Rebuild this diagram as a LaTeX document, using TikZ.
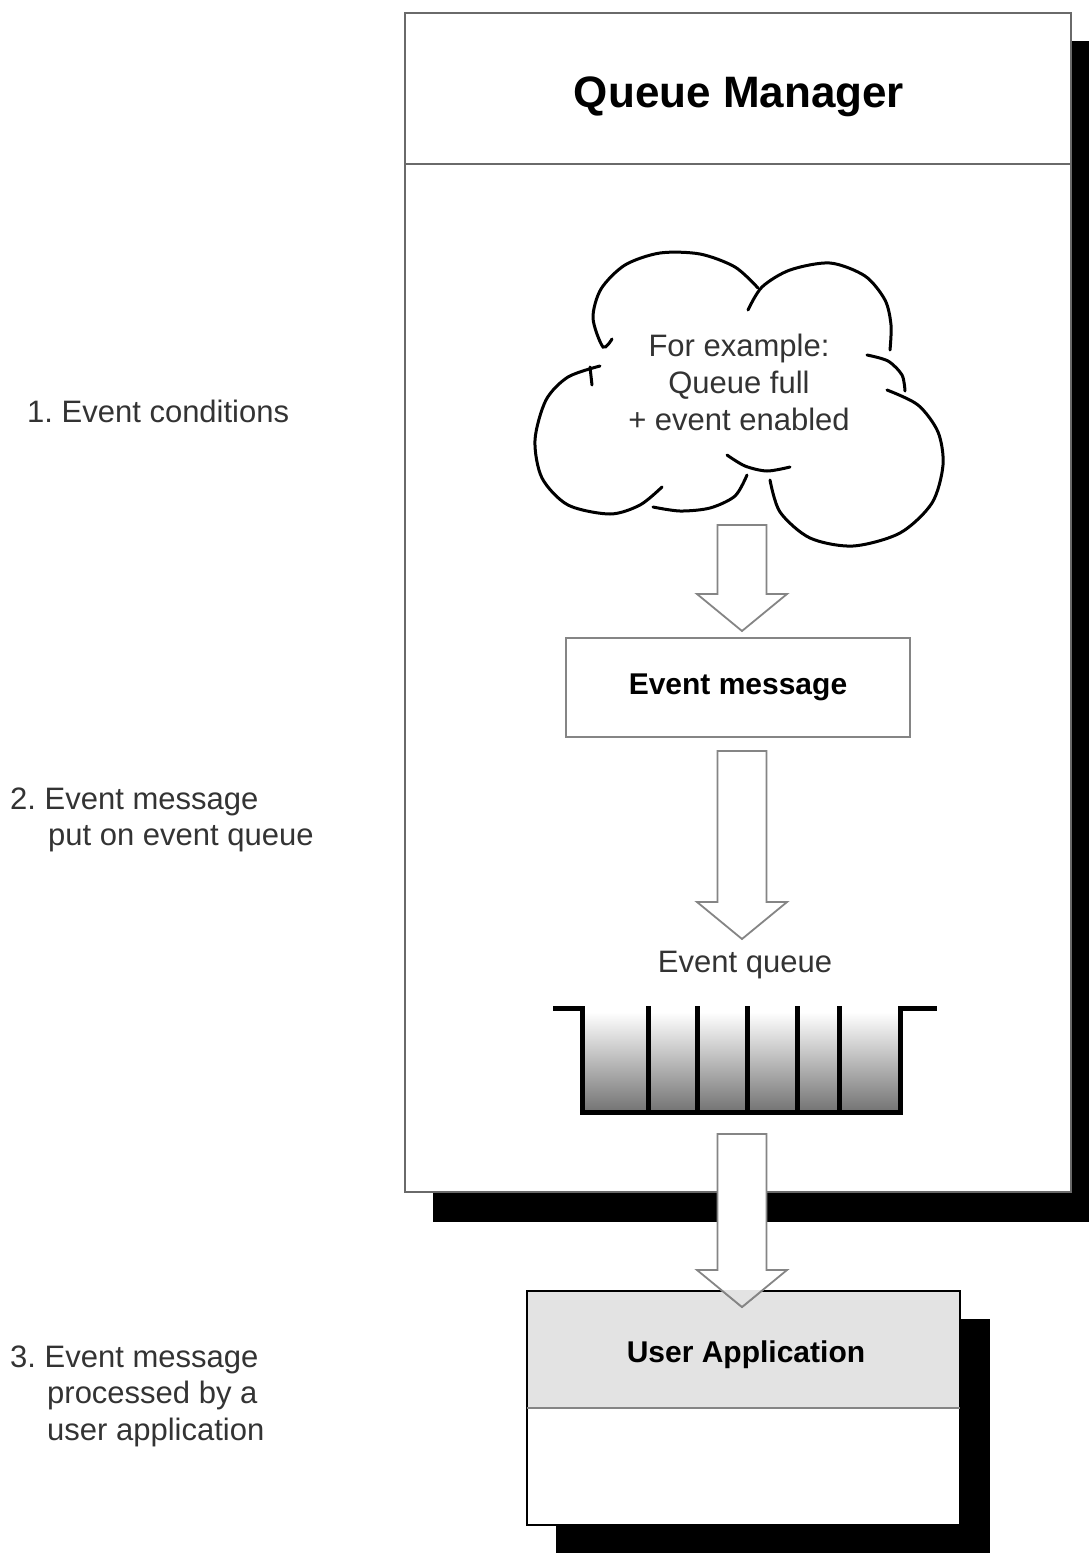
\documentclass[tikz,border=0pt]{standalone}
\usepackage{fontspec}
\setmainfont{Liberation Sans}
\usetikzlibrary{calc}
\frenchspacing

\definecolor{linegray}{HTML}{6A6A6A}
\definecolor{arrowgray}{HTML}{858585}
\definecolor{headgray}{HTML}{E3E3E3}
\definecolor{textgray}{HTML}{333333}

% seta larga vazada: (inicio) (ponta)
\newcommand{\hollowarrow}[3][]{%
  \path[arrowline,#1] ($(#2)+(-24.5,0)$) -- ($(#2)+(24.5,0)$) -- ($(#3)+(24.5,-37)$)
    -- ($(#3)+(45,-37)$) -- (#3) -- ($(#3)+(-45,-37)$) -- ($(#3)+(-24.5,-37)$) -- cycle;}

\begin{document}
\begin{tikzpicture}[x=1pt, y=-1pt,
    panel/.style={draw=linegray, line width=2pt, fill=white, inner sep=0pt, outer sep=0pt},
    arrowline/.style={draw=arrowgray, line width=1.8pt, fill=white, line join=miter},
    stagetext/.style={anchor=base west, text=textgray, font=\fontsize{31}{37}\selectfont, inner sep=0pt},
    plaintext/.style={text=textgray, font=\fontsize{31}{37}\selectfont, inner sep=0pt},
    boldtext/.style={font=\bfseries\fontsize{30}{36}\selectfont, inner sep=0pt},
    cloudline/.style={line width=3pt, line cap=round}]
        \useasboundingbox (0,0) rectangle (1089,1553);
        \clip (0,0) rectangle (1089,1553);

        % Gerenciador de filas com sombra
        \fill (433,41) rectangle (1099,1222);
        \node[panel, minimum width=666pt, minimum height=1179pt, anchor=north west] (qm) at (405,13) {};
        \draw[linegray, line width=2pt] ($(qm.north west)+(0,151)$) -- ($(qm.north east)+(0,151)$);
        \node[font=\bfseries\fontsize{44}{50}\selectfont, anchor=base, inner sep=0pt] (qmtitle) at (739,107) {Queue Manager};

        % Etapas a esquerda
        \node[stagetext] (st1) at (27,422) {1. Event conditions};
        \node[stagetext] (st2a) at (10,809) {2. Event message};
        \node[stagetext] (st2b) at (48,845) {put on event queue};
        \node[stagetext] (st3a) at (10,1367) {3. Event message};
        \node[stagetext] (st3b) at (47,1403) {processed by a};
        \node[stagetext] (st3c) at (47,1440) {user application};

        % Nuvem das condicoes
        \draw[cloudline] plot[smooth] coordinates {(612,339) (603,347) (593,318) (601,289) (625,265) (660,253) (700,254) (735,267) (758,288)};
        \draw[cloudline] plot[smooth] coordinates {(748,310) (762,287) (790,270) (830,263) (865,276) (885,300) (891,325) (890,350)};
        \draw[cloudline] plot[smooth] coordinates {(867,355) (888,361) (902,375) (905,391)};
        \draw[cloudline] plot[smooth] coordinates {(887,390) (918,405) (938,432) (943,465) (932,503) (900,533) (853,546) (810,538) (780,512) (770,480)};
        \draw[cloudline] plot[smooth] coordinates {(727,455) (745,466) (767,471) (790,467)};
        \draw[cloudline] plot[smooth] coordinates {(747,475) (735,496) (710,508) (680,511) (653,507)};
        \draw[cloudline] plot[smooth] coordinates {(600,366) (568,377) (546,400) (535,440) (542,478) (568,505) (610,514) (640,505) (662,487)};
        \draw[cloudline] (590,367) -- (592,385);
        \node[plaintext, align=center] (cond) at (739,382) {For example:\\Queue full\\+ event enabled};

        % Mensagem de evento
        \coordinate (a1s) at (742,525);
        \coordinate (a1e) at (742,631);
        \hollowarrow{a1s}{a1e}
        \node[panel, draw=arrowgray, line width=2.5pt, minimum width=344pt, minimum height=99pt, boldtext] (msg) at (738,687.5) {Event message};
        \coordinate (a2s) at (742,751);
        \coordinate (a2e) at (742,939);
        \hollowarrow{a2s}{a2e}

        % Fila de eventos
        \node[plaintext, anchor=base] (qlabel) at (745,972) {Event queue};
        \shade[top color=white, bottom color=black!55] (582,1012) rectangle (900,1112);
        \draw[line width=5pt, line join=miter] (553,1008) -- (582,1008) -- (582,1112) -- (900,1112) -- (900,1008) -- (937,1008);
        \foreach \x in {648,697,747,797,839}
          \draw[line width=5pt] (\x,1006) -- (\x,1112);

        % Aplicacao do usuario
        \fill (556,1319) rectangle (990,1560);
        \node[panel, draw=black, line width=2.5pt, minimum width=433pt, minimum height=234pt, anchor=north west] (ua) at (527,1291) {};
        \fill[headgray] ($(ua.north west)+(1.25,1.25)$) rectangle ($(ua.east)+(-1.25,0)$);
        \draw[arrowgray, line width=2pt] (ua.west) -- (ua.east);
        \node[boldtext, anchor=base] (uatitle) at (746,1362) {User Application};

        % Seta para a aplicacao
        \coordinate (a3s) at (742,1134);
        \coordinate (a3e) at (742,1307);
        \hollowarrow{a3s}{a3e}
        \begin{scope}
          \clip (527,1290) rectangle (960,1407);
          \hollowarrow[fill=headgray]{a3s}{a3e}
        \end{scope}
\end{tikzpicture}
\end{document}
